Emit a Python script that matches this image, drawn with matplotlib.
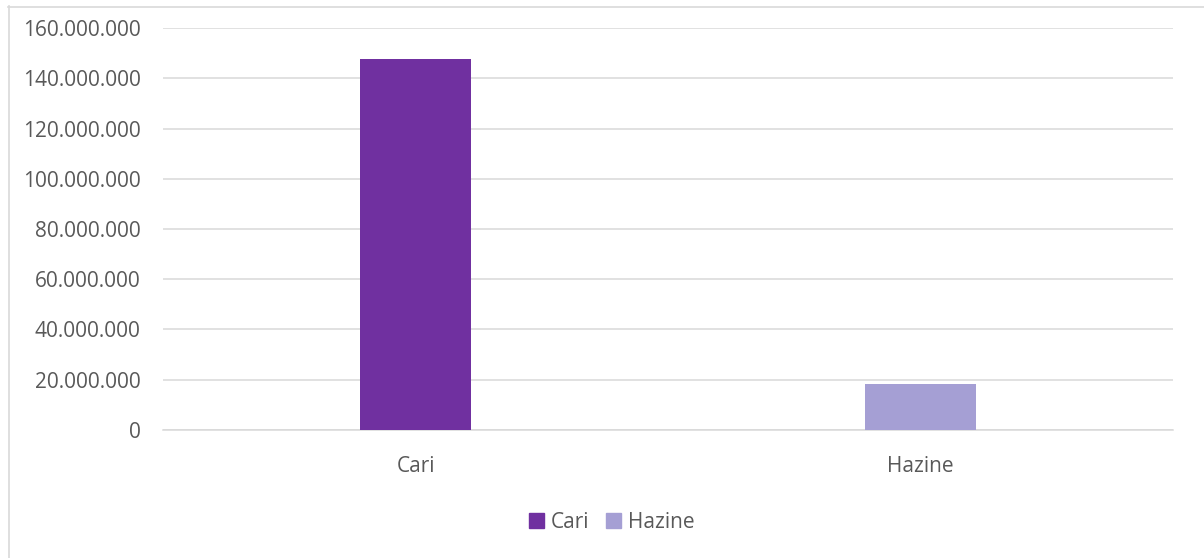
import matplotlib.pyplot as plt
from matplotlib.lines import Line2D
from matplotlib.patches import Patch
from matplotlib.ticker import FuncFormatter

categories = ["Cari", "Hazine"]
values = [147700000, 18300000]
colors = ["#7030A0", "#A59FD4"]
yticks = list(range(0, 160000001, 20000000))

plt.rcParams['font.family'] = ['Open Sans', 'DejaVu Sans']
text_color = "#595959"

fig = plt.figure(figsize=(12.04, 5.58), dpi=100)
ax = fig.add_axes([0.1354, 0.2294, 0.8389, 0.7204])

x = range(len(categories))
ax.bar(x, values, width=0.22, color=colors, zorder=3)

ax.set_xlim(-0.5, 1.5)
ax.set_ylim(0, 160000000)
ax.set_yticks(yticks)
ax.yaxis.set_major_formatter(FuncFormatter(lambda v, p: f"{int(v):,}".replace(",", ".")))
ax.set_xticks(list(x))
ax.set_xticklabels(categories)

ax.grid(axis="y", color="#D9D9D9", linewidth=1.1, zorder=0)
for s in ["top", "right", "left"]:
    ax.spines[s].set_visible(False)
ax.spines["bottom"].set_color("#D9D9D9")
ax.spines["bottom"].set_linewidth(1.1)
ax.tick_params(axis="both", length=0, labelsize=15, colors=text_color)
ax.tick_params(axis="y", pad=16)
ax.tick_params(axis="x", pad=19)

handles = [Patch(color=c, label=n) for c, n in zip(colors, categories)]
fig.legend(handles=handles, loc="center", bbox_to_anchor=(612 / 1204, 1 - 522 / 558),
           ncol=2, frameon=False, fontsize=15, labelcolor=text_color,
           handlelength=0.7, handleheight=0.7, handletextpad=0.35, columnspacing=0.8)

# chart frame (left and top edges only)
fig.add_artist(Line2D([8.5 / 1204, 8.5 / 1204], [0, 1 - 6 / 558], transform=fig.transFigure,
                      color="#D9D9D9", linewidth=1.2))
fig.add_artist(Line2D([8 / 1204, 1], [1 - 6.5 / 558, 1 - 6.5 / 558], transform=fig.transFigure,
                      color="#D9D9D9", linewidth=1.2))

fig.savefig("out.png", dpi=100, facecolor="white")
